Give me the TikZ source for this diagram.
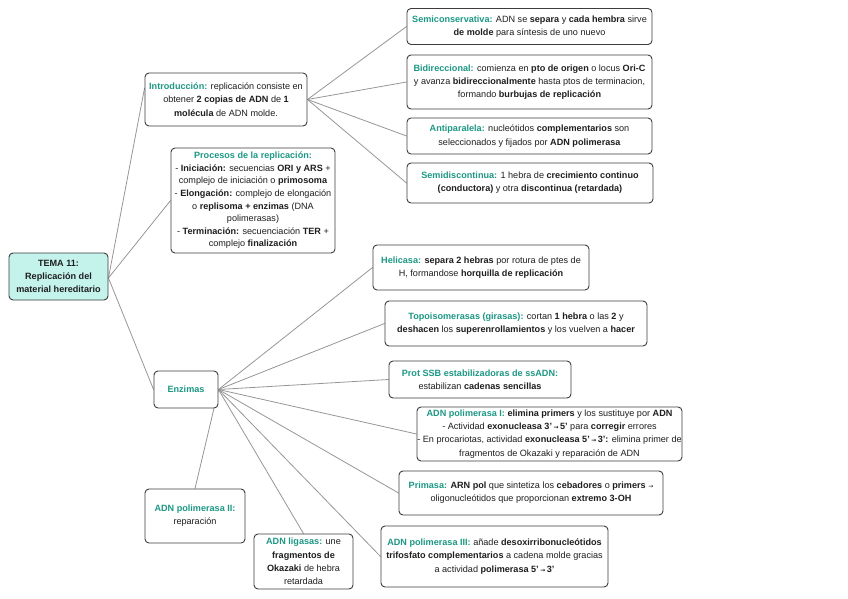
\documentclass[tikz,border=0pt]{standalone}
\usepackage{fontspec}
\setmainfont{Liberation Sans}
\newfontfamily\arrfont{DejaVu Sans}
\usetikzlibrary{calc,backgrounds}
\definecolor{headc}{RGB}{28,152,132}
\definecolor{txtc}{RGB}{30,30,30}
\definecolor{boxc}{RGB}{60,60,60}
\definecolor{linec}{RGB}{150,150,150}
\definecolor{temafill}{RGB}{196,243,236}
\newcommand{\hd}[1]{\textcolor{headc}{\textbf{#1}}}
\newcommand{\ar}{{\arrfont\fontsize{6}{6}\selectfont →}}
\tikzset{
  mbox/.style={draw=boxc, line width=0.9pt, rounded corners=4pt, fill=white,
    align=center, inner sep=0pt, text=txtc,
    font=\fontsize{9.1}{13.2}\selectfont},
  conn/.style={draw=linec, line width=0.8pt},
}
\begin{document}
\begin{tikzpicture}[x=1pt,y=-1pt]
\useasboundingbox (0,0) rectangle (848,599);
\node[mbox, fill=temafill, minimum width=99, minimum height=47] (tema) at (58.5,276.5)
  {\textbf{TEMA 11:}\\ \textbf{Replicación del}\\ \textbf{material hereditario}};
\node[mbox, minimum width=162, minimum height=53] (intro) at (226,99.5)
  {\hd{Introducción:} replicación consiste en\\ obtener \textbf{2 copias de ADN} de \textbf{1}\\ \textbf{molécula} de ADN molde.};
\node[mbox, minimum width=164, minimum height=105, font=\fontsize{9.1}{12.6}\selectfont] (proc) at (253,200.5)
  {\hd{Procesos de la replicación:}\\ - \textbf{Iniciación:} secuencias \textbf{ORI y ARS} +\\ complejo de iniciación o \textbf{primosoma}\\ - \textbf{Elongación:} complejo de elongación\\ o \textbf{replisoma + enzimas} (DNA\\ polimerasas)\\ - \textbf{Terminación:} secuenciación \textbf{TER} +\\ complejo \textbf{finalización}};
\node[mbox, minimum width=64, minimum height=37] (enz) at (186,389.5) {\hd{Enzimas}};
\node[mbox, minimum width=245, minimum height=36] (semi) at (529.5,26.5)
  {\hd{Semiconservativa:} ADN se \textbf{separa} y \textbf{cada hembra} sirve\\ \textbf{de molde} para síntesis de uno nuevo};
\node[mbox, minimum width=245, minimum height=54] (bidir) at (529.5,82)
  {\hd{Bidireccional:} comienza en \textbf{pto de origen} o locus \textbf{Ori-C}\\ y avanza \textbf{bidireccionalmente} hasta ptos de terminacion,\\ formando \textbf{burbujas de replicación}};
\node[mbox, minimum width=245, minimum height=36] (anti) at (529.5,136)
  {\hd{Antiparalela:} nucleótidos \textbf{complementarios} son\\ seleccionados y fijados por \textbf{ADN polimerasa}};
\node[mbox, minimum width=246, minimum height=40] (semid) at (530,183)
  {\hd{Semidiscontinua:} 1 hebra de \textbf{crecimiento continuo}\\ \textbf{(conductora)} y otra \textbf{discontinua (retardada)}};
\node[mbox, minimum width=216, minimum height=45] (heli) at (481,267.5)
  {\hd{Helicasa:} \textbf{separa 2 hebras} por rotura de ptes de\\ H, formandose \textbf{horquilla de replicación}};
\node[mbox, minimum width=262, minimum height=45] (topo) at (516,323.5)
  {\hd{Topoisomerasas (girasas):} cortan \textbf{1 hebra} o las \textbf{2} y\\ \textbf{deshacen} los \textbf{superenrollamientos} y los vuelven a \textbf{hacer}};
\node[mbox, minimum width=182, minimum height=37] (ssb) at (480,379.5)
  {\hd{Prot SSB estabilizadoras de ssADN:}\\ estabilizan \textbf{cadenas sencillas}};
\node[mbox, minimum width=265, minimum height=54] (pol1) at (549.5,434)
  {\hd{ADN polimerasa I:} \textbf{elimina primers} y los sustituye por \textbf{ADN}\\ - Actividad \textbf{exonucleasa 3'\,\ar\,5'} para \textbf{corregir} errores\\ - En procariotas, actividad \textbf{exonucleasa 5'\,\ar\,3':} elimina primer de\\ fragmentos de Okazaki y reparación de ADN};
\node[mbox, minimum width=264, minimum height=44] (prim) at (531,493)
  {\hd{Primasa:} \textbf{ARN pol} que sintetiza los \textbf{cebadores} o \textbf{primers} \ar\\ oligonucleótidos que proporcionan \textbf{extremo 3-OH}};
\node[mbox, minimum width=227, minimum height=61] (pol3) at (494.5,556.5)
  {\hd{ADN polimerasa III:} añade \textbf{desoxirribonucleótidos}\\ \textbf{trifosfato complementarios} a cadena molde gracias\\ a actividad \textbf{polimerasa 5'\,\ar\,3'}};
\node[mbox, minimum width=100, minimum height=54] (pol2) at (195,516)
  {\hd{ADN polimerasa II:}\\ reparación};
\node[mbox, minimum width=99, minimum height=55] (liga) at (303.5,561.5)
  {\hd{ADN ligasas:} une\\ \textbf{fragmentos de}\\ \textbf{Okazaki} de hebra\\ retardada};
\begin{scope}[on background layer]
  \draw[conn] ($(tema.east)+(0,1.5)$) -- ($(intro.west)+(0,-11.5)$);
  \draw[conn] ($(tema.east)+(0,1.5)$) -- (proc.west);
  \draw[conn] ($(tema.east)+(0,1.5)$) -- (enz.west);
  \draw[conn] (intro.east) -- (semi.west);
  \draw[conn] (intro.east) -- (bidir.west);
  \draw[conn] (intro.east) -- (anti.west);
  \draw[conn] (intro.east) -- (semid.west);
  \draw[conn] (enz.east) -- (heli.west);
  \draw[conn] (enz.east) -- (topo.west);
  \draw[conn] (enz.east) -- (ssb.west);
  \draw[conn] (enz.east) -- (pol1.west);
  \draw[conn] (enz.east) -- (prim.west);
  \draw[conn] (enz.east) -- (pol3.west);
  \draw[conn] (enz.east) -- (liga.north);
  \draw[conn] (enz.east) -- (pol2.north);
\end{scope}
\end{tikzpicture}
\end{document}
